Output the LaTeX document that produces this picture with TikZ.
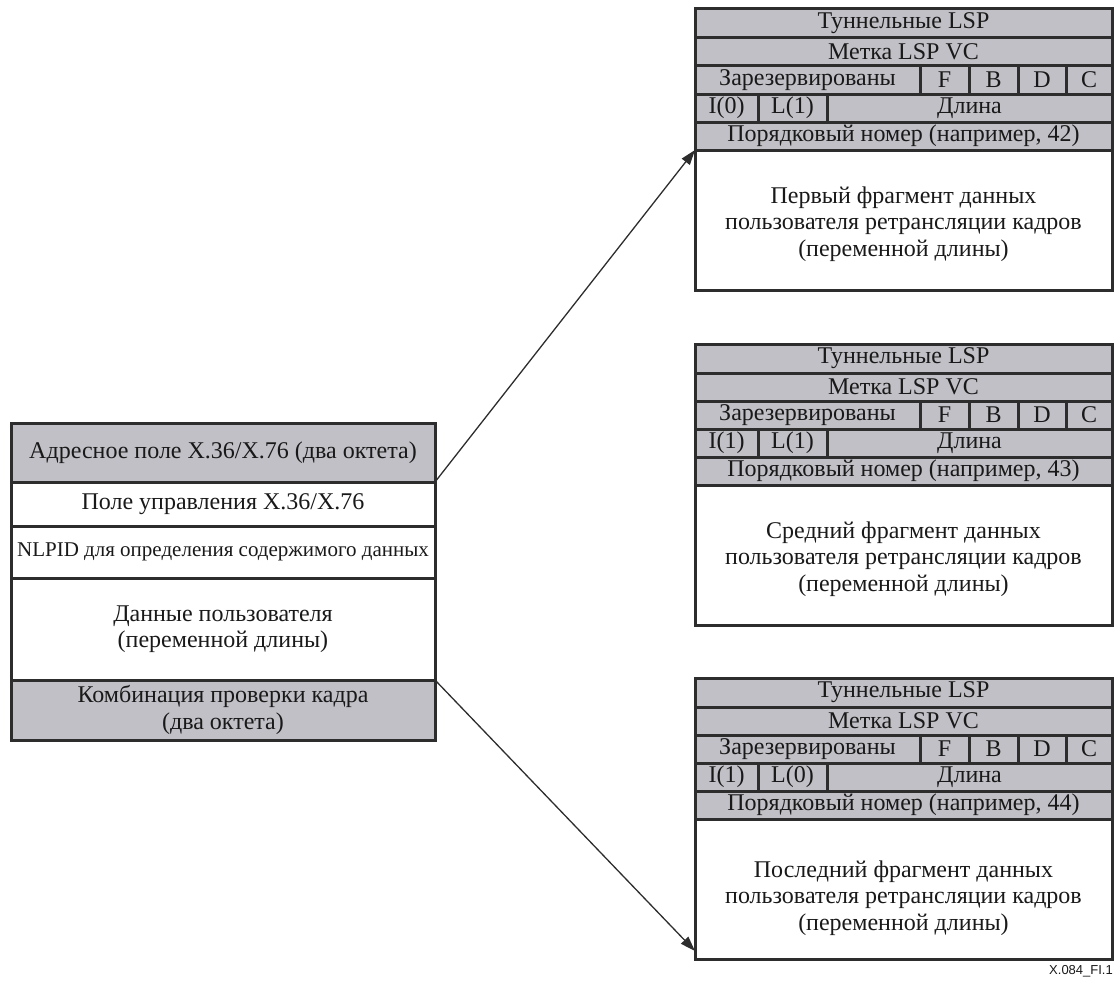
\documentclass[tikz,border=0pt]{standalone}
\usepackage{fontspec}
\setmainfont{Liberation Serif}
\newfontfamily\labelfont{Liberation Sans}
\usetikzlibrary{arrows.meta,calc}

\definecolor{cellgray}{RGB}{192,192,198}
\definecolor{rulecol}{RGB}{45,45,45}
\definecolor{ink}{RGB}{25,25,25}

% one rectangular field: style, name, x1, y1, x2, y2, text
\newcommand\fieldcell[7]{%
  \node[#1, minimum width={#5-#3}, minimum height={#6-#4}] (#2) at (#3,#4) {#7};}

% an MPLS frame fragment: prefix, top y, I bit, L bit, sequence no.,
% first body line, vertical offset of the body text
\newcommand\lspframe[7]{%
  \pgfmathsetmacro\ra{#2}\pgfmathsetmacro\rb{#2+29}\pgfmathsetmacro\rc{#2+57}%
  \pgfmathsetmacro\rd{#2+85}\pgfmathsetmacro\re{#2+113}\pgfmathsetmacro\rf{#2+141}%
  \pgfmathsetmacro\rg{#2+281}%
  \fieldcell{hdr}{#1-tun}{695}{\ra}{1112}{\rb}{Туннельные LSP}
  \fieldcell{hdr}{#1-vc}{695}{\rb}{1112}{\rc}{Метка LSP VC}
  \fieldcell{hdr}{#1-res}{695}{\rc}{920}{\rd}{Зарезервированы}
  \fieldcell{hdr}{#1-f}{920}{\rc}{969}{\rd}{F}
  \fieldcell{hdr}{#1-b}{969}{\rc}{1018}{\rd}{B}
  \fieldcell{hdr}{#1-d}{1018}{\rc}{1066}{\rd}{D}
  \fieldcell{hdr}{#1-c}{1066}{\rc}{1112}{\rd}{C}
  \fieldcell{hdr}{#1-i}{695}{\rd}{758}{\re}{I(#3)}
  \fieldcell{hdr}{#1-l}{758}{\rd}{827}{\re}{L(#4)}
  \fieldcell{hdr}{#1-len}{827}{\rd}{1112}{\re}{Длина}
  \fieldcell{hdr}{#1-seq}{695}{\re}{1112}{\rf}{Порядковый номер (например, #5)}
  \fieldcell{plain}{#1-body}{695}{\rf}{1112}{\rg}{}
  \node[bodytext] (#1-text) at ([yshift=#7]#1-body.center)
    {#6 фрагмент данных\\пользователя ретрансляции кадров\\(переменной длины)};
}

\begin{document}
\begin{tikzpicture}[x=1pt,y=-1pt,
  bodytext/.style={inner sep=0pt, text=ink, align=center,
    font=\fontsize{24}{26.5}\selectfont},
  plain/.style={bodytext, draw=rulecol, line width=3pt, outer sep=0pt,
    anchor=north west},
  hdr/.style={plain, fill=cellgray},
  link/.style={draw=rulecol, line width=1.3pt, -{Triangle[length=15pt,width=10pt]}}]
\useasboundingbox (0,0) rectangle (1116,982);

% frame relay frame
\fieldcell{hdr}{addr}{11}{423}{435}{482}{Адресное поле X.36/X.76 (два октета)}
\fieldcell{plain}{ctrl}{11}{482}{435}{526}{Поле управления X.36/X.76}
\fieldcell{plain,font=\fontsize{21}{24}\selectfont}{nlpid}{11}{526}{435}{578}{NLPID для определения содержимого данных}
\fieldcell{plain}{udata}{11}{578}{435}{680}{Данные пользователя\\(переменной длины)}
\fieldcell{hdr}{fcs}{11}{680}{435}{740}{Комбинация проверки кадра\\(два октета)}

% fragments
\lspframe{A}{9}{0}{1}{42}{Первый}{-4pt}
\lspframe{B}{344}{1}{1}{43}{Средний}{-4pt}
\lspframe{C}{678}{1}{0}{44}{Последний}{-9pt}

\draw[link] (addr.south east) -- (A-body.north west);
\draw[link] (fcs.north east) -- ([yshift=8pt]C-body.south west);

\node[anchor=south east, inner sep=0pt, text=ink, font=\labelfont\fontsize{13}{13}\selectfont] (figid) at (1113,977) {X.084\_FI.1};
\end{tikzpicture}
\end{document}
